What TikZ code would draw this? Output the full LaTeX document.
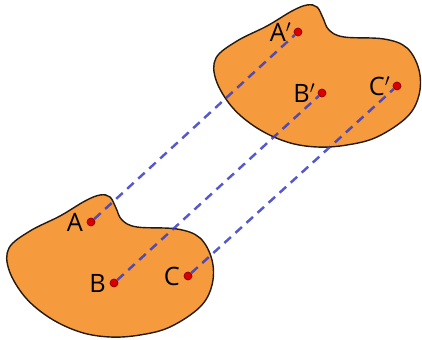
\documentclass[tikz,border=0pt]{standalone}
\usepackage{fontspec}
\newfontfamily\lblfont{Open Sans}
\usetikzlibrary{positioning}

\begin{document}
\begin{tikzpicture}[
    x=0.02cm, y=-0.02cm,
    blob/.style={draw=black!80!brown, line width=0.8pt, fill=figorange},
    pt/.style={circle, draw=red!55!black, fill=red!85!black, line width=0.4pt, minimum size=0.16cm, inner sep=0pt},
    lbl/.style={font=\lblfont\Large, inner sep=1pt},
    trans/.style={draw=figblue, opacity=0.85, line width=1.4pt, dash pattern=on 5pt off 3.5pt}
]
\definecolor{figorange}{RGB}{246,154,62}
\definecolor{figblue}{RGB}{55,60,195}
\useasboundingbox (0,0) rectangle (422,340);

% the figure and its translated copy
\foreach \dx/\dy in {0/0, 207/-190} {
  \begin{scope}[shift={(\dx,\dy)}]
    \path[blob] plot[smooth cycle, tension=0.6] coordinates {
      (100,195) (110,197) (116,208) (122,220) (137,227) (177,229)
      (200,238) (212,260) (212,285) (200,307) (170,327) (140,335)
      (110,337) (80,332) (50,318) (25,297) (9,270) (9,248)
      (30,231) (60,216) (85,201)};
  \end{scope}
}

% original points
\node[pt] (A) at (91,222) {};
\node[pt] (B) at (114,283) {};
\node[pt] (C) at (188,276) {};

% image points
\node[pt] (A2) at (298,32) {};
\node[pt] (B2) at (322,93) {};
\node[pt] (C2) at (397,86) {};

% labels
\node[lbl, left=1pt of A] (Alab) {A};
\node[lbl, left=1pt of B] (Blab) {B};
\node[lbl, left=1pt of C] (Clab) {C};
\node[lbl, left=0pt of A2] (A2lab) {A$'$};
\node[lbl, left=0pt of B2] (B2lab) {B$'$};
\node[lbl, left=0pt of C2] (C2lab) {C$'$};

% translation lines
\draw[trans] (A) -- (A2);
\draw[trans] (B) -- (B2);
\draw[trans] (C) -- (C2);

\end{tikzpicture}
\end{document}
